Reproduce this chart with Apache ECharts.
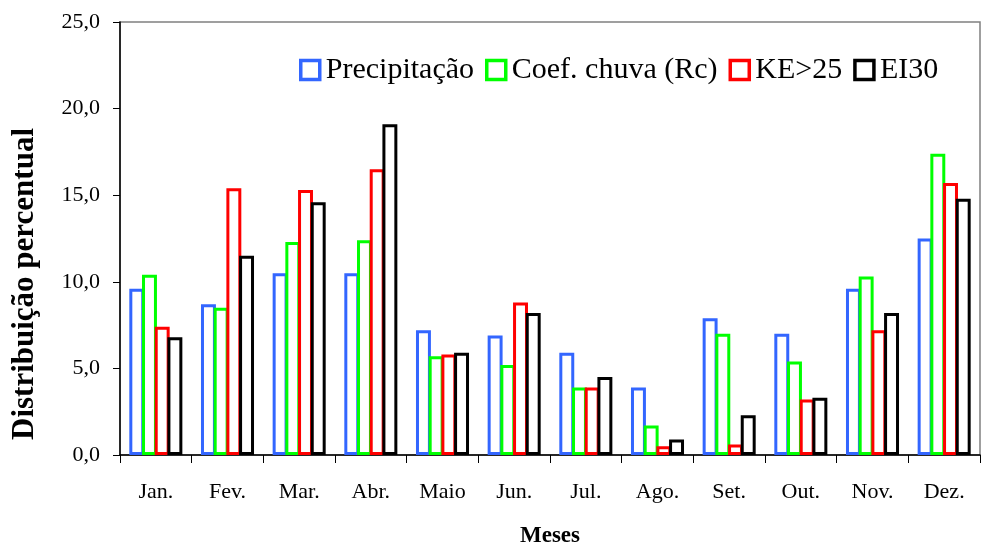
<!DOCTYPE html>
<html>
<head>
<meta charset="utf-8">
<script src="https://cdn.jsdelivr.net/npm/echarts@6/dist/echarts.min.js"></script>
<style>html,body{margin:0;padding:0;background:#fff;}#c{width:981px;height:547px;}</style>
</head>
<body>
<div id="c"></div>
<script>
const months = ['Jan.','Fev.','Mar.','Abr.','Maio','Jun.','Jul.','Ago.','Set.','Out.','Nov.','Dez.'];
const precipitacao = [9.6, 8.7, 10.5, 10.5, 7.2, 6.9, 5.9, 3.9, 7.9, 7.0, 9.6, 12.5];
const coefChuva = [10.4, 8.5, 12.3, 12.4, 5.7, 5.2, 3.9, 1.7, 7.0, 5.4, 10.3, 17.4];
const ke25 = [7.4, 15.4, 15.3, 16.5, 5.8, 8.8, 3.9, 0.5, 0.6, 3.2, 7.2, 15.7];
const ei30 = [6.8, 11.5, 14.6, 19.1, 5.9, 8.2, 4.5, 0.9, 2.3, 3.3, 8.2, 14.8];
const seriesNames = ['Precipitação', 'Coef. chuva (Rc)', 'KE>25', 'EI30'];
const colors = ['#3366ff', '#00ff00', '#ff0000', '#000000'];
const yTicks = [0, 5, 10, 15, 20, 25];

const FONT = "'Liberation Serif','Times New Roman',serif";
const chart = echarts.init(document.getElementById('c'), null, {renderer: 'canvas'});
const dataSets = [precipitacao, coefChuva, ke25, ei30];

const option = {
  animation: false,
  backgroundColor: '#fff',
  grid: {left: 120, right: 1, top: 22, bottom: 92, show: true, borderColor: '#808080', borderWidth: 1.5, outerBoundsMode: 'none', containLabel: false},
  legend: {
    left: 294, top: 50,
    icon: 'rect', itemWidth: 19, itemHeight: 19, itemGap: 11,
    textStyle: {fontFamily: FONT, fontSize: 30, color: '#000', padding: [0,0,0,1]},
    data: seriesNames.map((n, i) => ({name: n, itemStyle: {color: '#fff', borderColor: colors[i], borderWidth: 3.5}}))
  },
  xAxis: {
    type: 'category', data: months,
    name: 'Meses', nameLocation: 'middle', nameGap: 70,
    nameTextStyle: {fontFamily: FONT, fontSize: 23, fontWeight: 'bold', color: '#000'},
    axisLine: {lineStyle: {color: '#000', width: 1.5}},
    axisTick: {show: true, length: 8, lineStyle: {color: '#000', width: 1}},
    axisLabel: {fontFamily: FONT, fontSize: 22, color: '#000', margin: 26}
  },
  yAxis: {
    type: 'value', min: yTicks[0], max: yTicks[yTicks.length-1], interval: 5,
    splitLine: {show: false},
    axisLine: {show: true, lineStyle: {color: '#000', width: 1.5}},
    axisTick: {show: true, length: 7, lineStyle: {color: '#000', width: 1}},
    axisLabel: {fontFamily: FONT, fontSize: 22, color: '#000', margin: 20,
      formatter: v => v.toFixed(1).replace('.', ',')}
  },
  graphic: [{
    type: 'text', x: 25, y: 284, rotation: Math.PI/2,
    style: {text: 'Distribuição percentual', font: "bold 31px " + FONT, fill: '#000', align: 'center', verticalAlign: 'middle'}
  }],
  series: dataSets.map((d, i) => ({
    name: seriesNames[i], type: 'bar', data: d,
    barGap: '-15%', barCategoryGap: '26%',
    itemStyle: {color: '#fff', borderColor: colors[i], borderWidth: 3}
  }))
};
chart.setOption(option);
</script>
</body>
</html>
